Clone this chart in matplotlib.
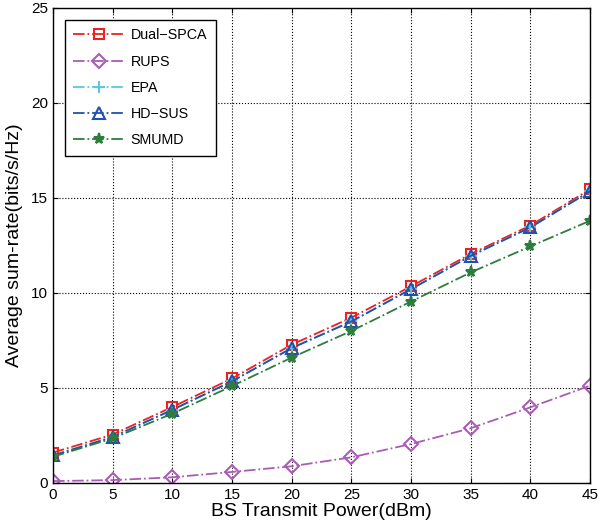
import numpy as np
import matplotlib.pyplot as plt

plt.rcParams['font.family'] = ['Liberation Sans', 'DejaVu Sans']

# BS transmit power (dBm) and average sum-rate for each scheme
power = [0, 5, 10, 15, 20, 25, 30, 35, 40, 45]
dual_spca = [1.6, 2.55, 4.0, 5.5, 7.28, 8.7, 10.35, 12.05, 13.55, 15.45]
rups = [0.1, 0.15, 0.3, 0.58, 0.88, 1.35, 2.05, 2.88, 3.98, 5.12]
epa = [1.45, 2.42, 3.85, 5.35, 7.1, 8.5, 10.2, 11.95, 13.45, 15.35]
hd_sus = [1.45, 2.42, 3.85, 5.35, 7.1, 8.5, 10.2, 11.95, 13.45, 15.35]
smumd = [1.38, 2.35, 3.65, 5.1, 6.6, 8.0, 9.55, 11.08, 12.45, 13.8]

fig = plt.figure(figsize=(5.99, 5.29), dpi=100)
ax = fig.add_axes([0.0885, 0.087, 0.8965, 0.898])

ax.plot(power, dual_spca, '-.', color='#f02020', marker='s', ms=7, mfc='none', mew=1.5, lw=1.3, label='Dual\u2212SPCA')
ax.plot(power, rups, '-.', color='#a95cb5', marker='D', ms=7, mfc='none', mew=1.5, lw=1.3, label='RUPS')
ax.plot(power, epa, '-.', color='#5ac8dc', marker='+', ms=9, mew=1.5, lw=1.3, label='EPA')
ax.plot(power, hd_sus, '-.', color='#2050b0', marker='^', ms=8, mfc='none', mew=1.5, lw=1.3, label='HD\u2212SUS')
ax.plot(power, smumd, '-.', color='#2e7d3e', marker='*', ms=8, mew=1.5, lw=1.3, label='SMUMD')

ax.set_xlim(0, 45)
ax.set_ylim(0, 25)
ax.set_xticks(np.arange(0, 46, 5))
ax.set_yticks(np.arange(0, 26, 5))
ax.grid(True, linestyle=':', color='k', lw=0.8)
ax.tick_params(direction='in', labelsize=11, top=True, right=True)
for s in ax.spines.values():
    s.set_linewidth(1.0)

ax.set_xlabel('BS Transmit Power(dBm)', fontsize=14, labelpad=1)
ax.set_ylabel('Average sum-rate(bits/s/Hz)', fontsize=14, labelpad=6)

leg = ax.legend(loc='upper left', bbox_to_anchor=(0.022, 0.975), fontsize=10.3,
                fancybox=False, edgecolor='k', framealpha=1, handlelength=3.6,
                handletextpad=0.4, labelspacing=0.85, borderpad=0.6, borderaxespad=0)
leg.get_frame().set_linewidth(1.0)

fig.savefig('out.png', dpi=100)
